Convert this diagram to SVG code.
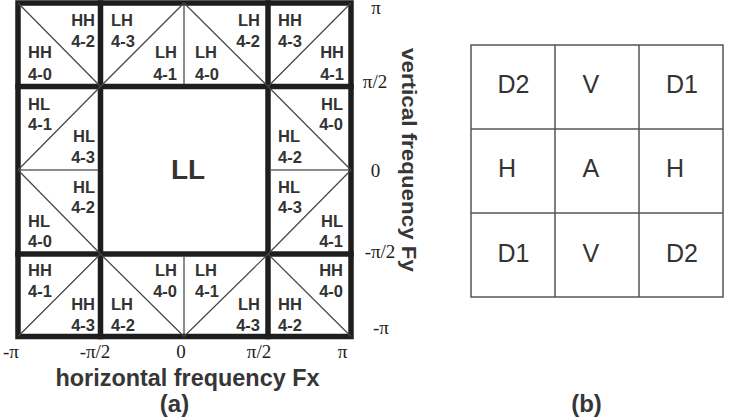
<svg xmlns="http://www.w3.org/2000/svg" width="734" height="420" viewBox="0 0 734 420">
<style>
.thick{stroke:#1e1e1e;stroke-width:5.5;fill:none;stroke-linecap:square}
.thin{stroke:#666;stroke-width:1.5;fill:none}
.diag{stroke:#444;stroke-width:1.2;fill:none}
.lb{font-family:"Liberation Sans",Arial,Helvetica,sans-serif;font-weight:bold;font-size:16.5px;fill:#333}
.r{text-anchor:end}
.ax{font-family:"Liberation Serif","Times New Roman",serif;font-size:19px;fill:#222;text-anchor:middle}
.ttl{font-family:"Liberation Sans",Arial,Helvetica,sans-serif;font-weight:bold;fill:#363636}
.bl{stroke:#555;stroke-width:1.5;fill:none}
.bt{font-family:"Liberation Sans",Arial,Helvetica,sans-serif;font-size:25px;fill:#333}
</style>
<rect width="734" height="420" fill="#fff"/>
<g id="connectors">
<rect class="thick" x="18" y="3" width="333" height="333.5"/>
<line class="thick" x1="100.5" y1="3" x2="100.5" y2="336.5"/>
<line class="thick" x1="268" y1="3" x2="268" y2="336.5"/>
<line class="thick" x1="18" y1="86.5" x2="351" y2="86.5"/>
<line class="thick" x1="18" y1="254" x2="351" y2="254"/>
<line class="thin" x1="184" y1="5.5" x2="184" y2="84"/>
<line class="thin" x1="184" y1="256.5" x2="184" y2="334"/>
<line class="thin" x1="20.5" y1="170" x2="98" y2="170"/>
<line class="thin" x1="270.5" y1="170" x2="348.5" y2="170"/>
</g>
<g id="cell-tl"><line class="diag" x1="18" y1="3" x2="100.5" y2="86.5"/><text class="lb r" x="95" y="26">HH</text><text class="lb r" x="95" y="46.5">4-2</text><text class="lb" x="28" y="58">HH</text><text class="lb" x="28" y="80">4-0</text></g>
<g id="cell-t1"><line class="diag" x1="100.5" y1="86.5" x2="184" y2="3"/><text class="lb" x="111" y="26">LH</text><text class="lb" x="111" y="46.5">4-3</text><text class="lb r" x="177" y="58">LH</text><text class="lb r" x="177" y="80">4-1</text></g>
<g id="cell-t2"><line class="diag" x1="184" y1="3" x2="268" y2="86.5"/><text class="lb r" x="260" y="26">LH</text><text class="lb r" x="260" y="46.5">4-2</text><text class="lb" x="195" y="58">LH</text><text class="lb" x="195" y="80">4-0</text></g>
<g id="cell-tr"><line class="diag" x1="268" y1="86.5" x2="351" y2="3"/><text class="lb" x="278" y="26">HH</text><text class="lb" x="278" y="46.5">4-3</text><text class="lb r" x="344" y="58">HH</text><text class="lb r" x="344" y="80">4-1</text></g>
<g id="cell-l1"><line class="diag" x1="18" y1="170" x2="100.5" y2="86.5"/><text class="lb" x="28" y="110">HL</text><text class="lb" x="28" y="130">4-1</text><text class="lb r" x="95" y="142">HL</text><text class="lb r" x="95" y="163">4-3</text></g>
<g id="cell-l2"><line class="diag" x1="18" y1="170" x2="100.5" y2="254"/><text class="lb r" x="95" y="193">HL</text><text class="lb r" x="95" y="213">4-2</text><text class="lb" x="28" y="227">HL</text><text class="lb" x="28" y="247">4-0</text></g>
<g id="cell-r1"><line class="diag" x1="268" y1="86.5" x2="351" y2="170"/><text class="lb r" x="343" y="110">HL</text><text class="lb r" x="343" y="130">4-0</text><text class="lb" x="278" y="142">HL</text><text class="lb" x="278" y="163">4-2</text></g>
<g id="cell-r2"><line class="diag" x1="268" y1="254" x2="351" y2="170"/><text class="lb" x="278" y="193">HL</text><text class="lb" x="278" y="213">4-3</text><text class="lb r" x="343" y="227">HL</text><text class="lb r" x="343" y="247">4-1</text></g>
<g id="cell-bl"><line class="diag" x1="18" y1="336.5" x2="100.5" y2="254"/><text class="lb" x="28" y="276">HH</text><text class="lb" x="28" y="297">4-1</text><text class="lb r" x="95" y="310">HH</text><text class="lb r" x="95" y="331">4-3</text></g>
<g id="cell-b1"><line class="diag" x1="100.5" y1="254" x2="184" y2="336.5"/><text class="lb r" x="177" y="276">LH</text><text class="lb r" x="177" y="297">4-0</text><text class="lb" x="111" y="310">LH</text><text class="lb" x="111" y="331">4-2</text></g>
<g id="cell-b2"><line class="diag" x1="184" y1="336.5" x2="268" y2="254"/><text class="lb" x="195" y="276">LH</text><text class="lb" x="195" y="297">4-1</text><text class="lb r" x="260" y="310">LH</text><text class="lb r" x="260" y="331">4-3</text></g>
<g id="cell-br"><line class="diag" x1="268" y1="254" x2="351" y2="336.5"/><text class="lb r" x="343" y="276">HH</text><text class="lb r" x="343" y="297">4-0</text><text class="lb" x="278" y="310">HH</text><text class="lb" x="278" y="331">4-2</text></g>
<g id="cell-ll"><text x="188" y="179" text-anchor="middle" font-family="Liberation Sans, Arial, sans-serif" font-weight="bold" font-size="28" fill="#333">LL</text></g>
<g id="axis-y">
<text class="ax" x="376" y="14">π</text>
<text class="ax" x="375" y="88">π/2</text>
<text class="ax" x="375.5" y="177">0</text>
<text class="ax" x="380" y="258">-π/2</text>
<text class="ax" x="381" y="334">-π</text>
<text class="ttl" font-size="21" text-anchor="middle" transform="translate(402,160) rotate(90)" textLength="224" lengthAdjust="spacingAndGlyphs">vertical frequency Fy</text>
</g>
<g id="axis-x">
<text class="ax" x="11" y="358">-π</text>
<text class="ax" x="95" y="358">-π/2</text>
<text class="ax" x="181" y="358">0</text>
<text class="ax" x="259" y="358">π/2</text>
<text class="ax" x="342.5" y="358">π</text>
<text class="ttl" font-size="23" x="187.5" y="386" text-anchor="middle" textLength="264" lengthAdjust="spacingAndGlyphs">horizontal frequency Fx</text>
</g>
<text class="ttl" font-size="24" x="174.5" y="412" text-anchor="middle" fill="#333">(a)</text>
<g id="grid-b">
<rect class="bl" x="471" y="45" width="252" height="252"/>
<line class="bl" x1="555" y1="45" x2="555" y2="297"/>
<line class="bl" x1="639" y1="45" x2="639" y2="297"/>
<line class="bl" x1="471" y1="129" x2="723" y2="129"/>
<line class="bl" x1="471" y1="213" x2="723" y2="213"/>
</g>
<g id="b-d2-top"><text class="bt" x="497.5" y="93">D2</text></g>
<g id="b-v-top"><text class="bt" x="582.5" y="93">V</text></g>
<g id="b-d1-top"><text class="bt" x="666" y="93">D1</text></g>
<g id="b-h-left"><text class="bt" x="498" y="177">H</text></g>
<g id="b-a"><text class="bt" x="582.5" y="177">A</text></g>
<g id="b-h-right"><text class="bt" x="666" y="177">H</text></g>
<g id="b-d1-bot"><text class="bt" x="497.5" y="262">D1</text></g>
<g id="b-v-bot"><text class="bt" x="582.5" y="262">V</text></g>
<g id="b-d2-bot"><text class="bt" x="666" y="262">D2</text></g>
<text class="ttl" font-size="24" x="586.5" y="412" text-anchor="middle" fill="#333">(b)</text>
</svg>
